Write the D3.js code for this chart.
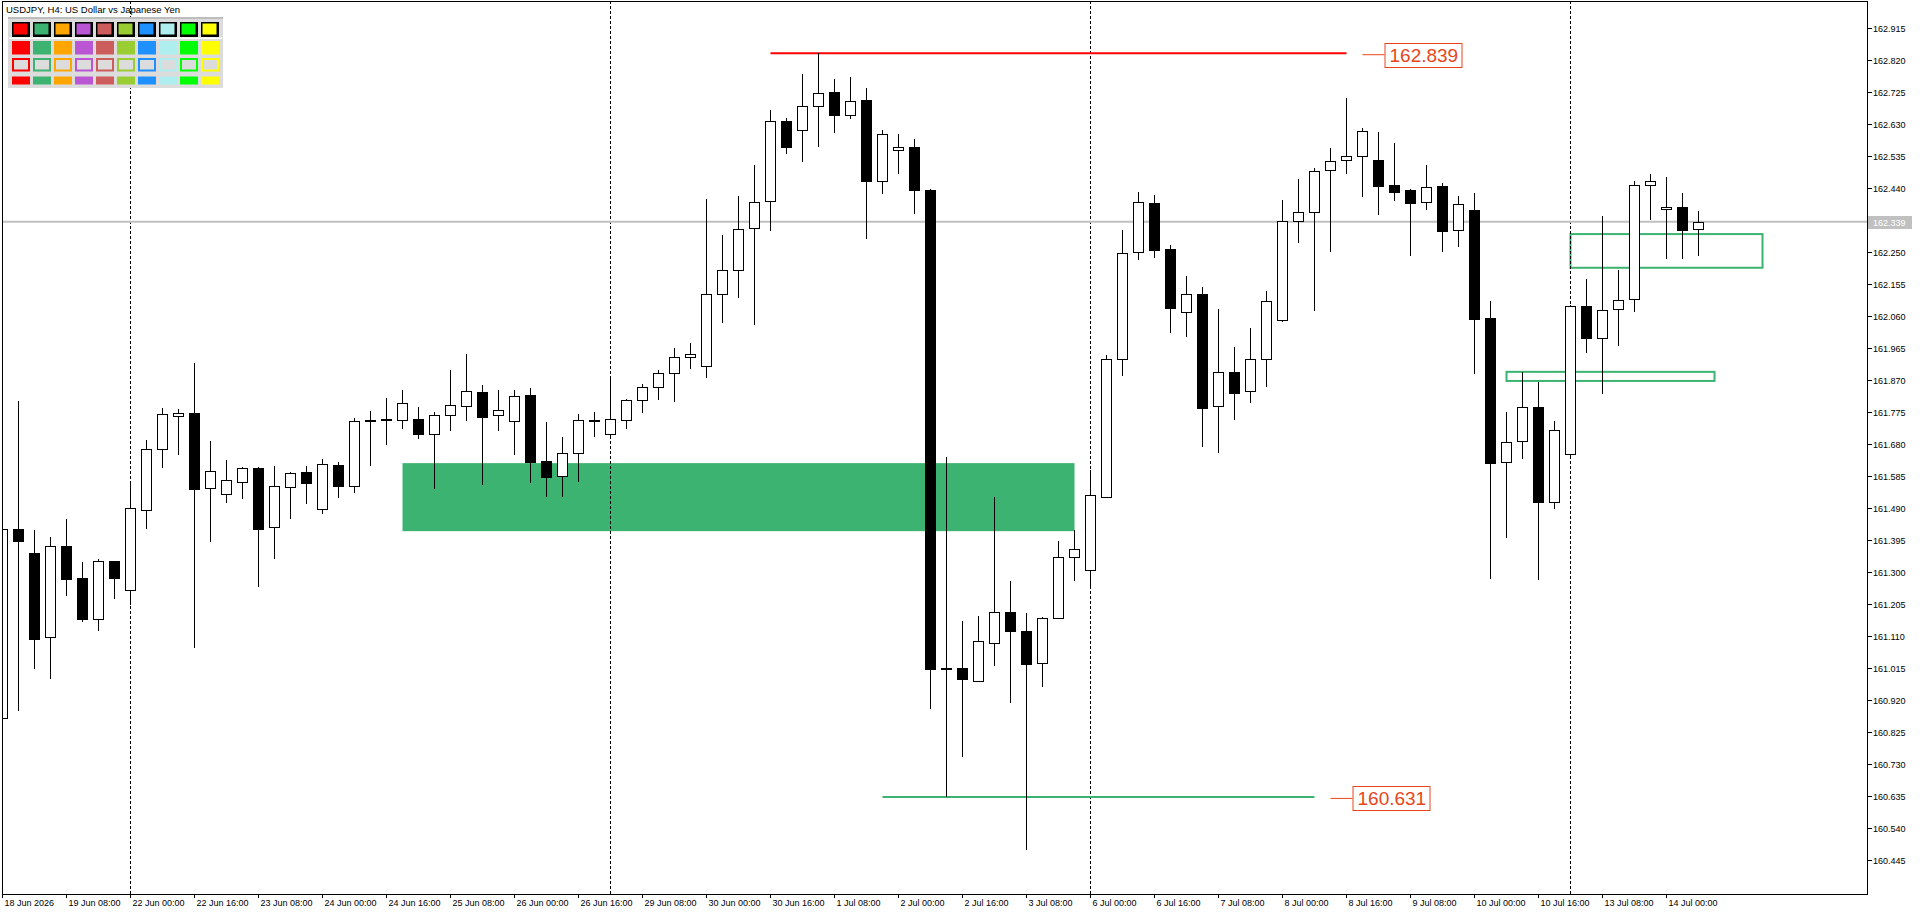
<!DOCTYPE html>
<html><head><meta charset="utf-8">
<script src="https://cdn.jsdelivr.net/npm/d3@7"></script>
<style>
html,body{margin:0;padding:0;background:#fff;overflow:hidden}
svg{display:block}
text{font-family:"Liberation Sans",Arial,sans-serif}
</style></head><body>
<svg id="chart" width="1920" height="915"></svg>
<script>
// ---------- DATA ----------
const symbolTitle = "USDJPY, H4:  US Dollar vs Japanese Yen";
const times = [
"18 Jun 16:00","18 Jun 20:00",
"19 Jun 00:00","19 Jun 04:00","19 Jun 08:00","19 Jun 12:00","19 Jun 16:00","19 Jun 20:00",
"22 Jun 00:00","22 Jun 04:00","22 Jun 08:00","22 Jun 12:00","22 Jun 16:00","22 Jun 20:00",
"23 Jun 00:00","23 Jun 04:00","23 Jun 08:00","23 Jun 12:00","23 Jun 16:00","23 Jun 20:00",
"24 Jun 00:00","24 Jun 04:00","24 Jun 08:00","24 Jun 12:00","24 Jun 16:00","24 Jun 20:00",
"25 Jun 00:00","25 Jun 04:00","25 Jun 08:00","25 Jun 12:00","25 Jun 16:00","25 Jun 20:00",
"26 Jun 00:00","26 Jun 04:00","26 Jun 08:00","26 Jun 12:00","26 Jun 16:00","26 Jun 20:00",
"29 Jun 00:00","29 Jun 04:00","29 Jun 08:00","29 Jun 12:00","29 Jun 16:00","29 Jun 20:00",
"30 Jun 00:00","30 Jun 04:00","30 Jun 08:00","30 Jun 12:00","30 Jun 16:00","30 Jun 20:00",
"1 Jul 00:00","1 Jul 04:00","1 Jul 08:00","1 Jul 12:00","1 Jul 16:00","1 Jul 20:00",
"2 Jul 00:00","2 Jul 04:00","2 Jul 08:00","2 Jul 12:00","2 Jul 16:00","2 Jul 20:00",
"3 Jul 00:00","3 Jul 04:00","3 Jul 08:00","3 Jul 12:00","3 Jul 16:00","3 Jul 20:00",
"6 Jul 00:00","6 Jul 04:00","6 Jul 08:00","6 Jul 12:00","6 Jul 16:00","6 Jul 20:00",
"7 Jul 00:00","7 Jul 04:00","7 Jul 08:00","7 Jul 12:00","7 Jul 16:00","7 Jul 20:00",
"8 Jul 00:00","8 Jul 04:00","8 Jul 08:00","8 Jul 12:00","8 Jul 16:00","8 Jul 20:00",
"9 Jul 00:00","9 Jul 04:00","9 Jul 08:00","9 Jul 12:00","9 Jul 16:00","9 Jul 20:00",
"10 Jul 00:00","10 Jul 04:00","10 Jul 08:00","10 Jul 12:00","10 Jul 16:00","10 Jul 20:00",
"13 Jul 00:00","13 Jul 04:00","13 Jul 08:00","13 Jul 12:00","13 Jul 16:00","13 Jul 20:00",
"14 Jul 00:00","14 Jul 04:00","14 Jul 08:00"
];
const opens = [
160.866,161.425,161.355,161.105,161.375,161.280,161.158,161.330,161.244,161.482,
161.663,161.763,161.771,161.547,161.531,161.567,161.607,161.431,161.550,161.595,
161.485,161.615,161.555,161.747,161.750,161.749,161.752,161.709,161.764,161.793,
161.832,161.764,161.746,161.824,161.627,161.583,161.651,161.747,161.707,161.749,
161.808,161.847,161.889,161.936,161.909,162.125,162.196,162.320,162.399,162.639,
162.612,162.683,162.724,162.657,162.701,162.459,162.553,162.562,162.433,161.013,
161.014,160.976,161.088,161.179,161.124,161.030,161.163,161.343,161.305,161.522,
161.930,162.248,162.393,162.257,162.070,162.123,161.791,161.892,161.835,161.930,
162.047,162.340,162.367,162.491,162.521,162.533,162.521,162.447,162.432,162.396,
162.444,162.313,162.373,162.052,161.624,161.687,161.788,161.506,161.648,162.088,
161.993,162.079,162.108,162.447,162.376,162.382,162.316
];
const highs = [
161.430,161.806,161.423,161.403,161.456,161.328,161.336,161.332,161.565,161.691,
161.785,161.782,161.918,161.688,161.631,161.610,161.610,161.613,161.596,161.613,
161.634,161.624,161.755,161.777,161.814,161.839,161.788,161.773,161.898,161.946,
161.853,161.839,161.838,161.845,161.743,161.699,161.768,161.774,161.874,161.811,
161.857,161.899,161.963,161.978,162.407,162.300,162.414,162.506,162.669,162.646,
162.776,162.839,162.762,162.768,162.735,162.611,162.598,162.584,162.436,161.640,
161.154,161.167,161.522,161.272,161.176,161.166,161.391,161.423,161.602,161.942,
162.314,162.427,162.418,162.270,162.178,162.144,162.080,161.967,162.023,162.133,
162.403,162.466,162.497,162.557,162.706,162.616,162.604,162.572,162.435,162.507,
162.453,162.415,162.424,162.103,161.773,161.892,161.864,161.747,162.090,162.169,
162.356,162.195,162.459,162.480,162.471,162.423,162.370
];
const lows = [
160.860,160.886,161.011,160.981,161.228,161.151,161.124,161.219,161.201,161.426,
161.608,161.647,161.074,161.388,161.504,161.516,161.255,161.338,161.457,161.501,
161.472,161.519,161.534,161.614,161.677,161.724,161.694,161.546,161.718,161.748,
161.558,161.718,161.647,161.564,161.522,161.522,161.566,161.700,161.700,161.722,
161.770,161.808,161.804,161.900,161.876,162.037,162.111,162.031,162.312,162.539,
162.515,162.562,162.601,162.644,162.286,162.422,162.479,162.363,160.893,160.631,
160.749,160.974,161.021,160.910,160.473,160.958,161.160,161.273,161.258,161.519,
161.882,162.226,162.232,162.009,161.997,161.671,161.651,161.749,161.801,161.849,
162.040,162.276,162.075,162.249,162.481,162.413,162.360,162.401,162.238,162.374,
162.250,162.264,161.887,161.279,161.400,161.633,161.276,161.485,161.640,161.948,
161.828,161.971,162.072,162.344,162.227,162.227,162.238
];
const closes = [
161.425,161.391,161.101,161.375,161.279,161.160,161.330,161.282,161.488,161.663,
161.767,161.770,161.546,161.598,161.571,161.607,161.427,161.553,161.592,161.564,
161.618,161.555,161.746,161.749,161.752,161.800,161.709,161.764,161.794,161.835,
161.760,161.779,161.820,161.626,161.582,161.651,161.749,161.749,161.752,161.808,
161.847,161.889,161.936,161.945,162.125,162.196,162.316,162.396,162.639,162.562,
162.683,162.721,162.657,162.696,162.459,162.600,162.562,162.432,161.012,161.015,
160.980,161.093,161.179,161.123,161.027,161.163,161.344,161.368,161.526,161.930,
162.245,162.396,162.256,162.083,162.123,161.787,161.892,161.831,161.930,162.102,
162.340,162.367,162.488,162.519,162.533,162.607,162.446,162.428,162.395,162.443,
162.312,162.390,162.051,161.623,161.684,161.788,161.506,161.719,162.088,161.993,
162.076,162.105,162.448,162.459,162.382,162.315,162.339
];
const tickTimes = ["18 Jun 16:00","19 Jun 08:00","22 Jun 00:00","22 Jun 16:00","23 Jun 08:00","24 Jun 00:00",
"24 Jun 16:00","25 Jun 08:00","26 Jun 00:00","26 Jun 16:00","29 Jun 08:00","30 Jun 00:00","30 Jun 16:00",
"1 Jul 08:00","2 Jul 00:00","2 Jul 16:00","3 Jul 08:00","6 Jul 00:00","6 Jul 16:00","7 Jul 08:00",
"8 Jul 00:00","8 Jul 16:00","9 Jul 08:00","10 Jul 00:00","10 Jul 16:00","13 Jul 08:00","14 Jul 00:00"];
const firstTickLabel = "18 Jun 2026";
const priceTicks = [160.445,160.540,160.635,160.730,160.825,160.920,161.015,161.110,161.205,161.300,
161.395,161.490,161.585,161.680,161.775,161.870,161.965,162.060,162.155,162.250,
162.440,162.535,162.630,162.725,162.820,162.915];
const separatorTimes = ["22 Jun 00:00","29 Jun 00:00","6 Jul 00:00","13 Jul 00:00"];
const currentPrice = 162.339;
// horizontal levels
const levelPrices = [162.839, 160.631];
const levelFrom   = ["30 Jun 16:00", "1 Jul 20:00"];
const levelTo     = ["8 Jul 16:00", "8 Jul 08:00"];
const levelLabelAt= ["8 Jul 20:00", "8 Jul 12:00"];
// zones: bar index from / to (may extend into future), price top / bottom
const zoneFrom   = [25, 98, 94];
const zoneTo     = [67, 110, 107];
const zoneTop    = [161.622, 162.302, 161.893];
const zoneBottom = [161.420, 162.202, 161.866];
const zoneFilled = [true, false, false];
const paletteColors = ["#ff0000","#3cb371","#ffa500","#ba55d3","#cd5c5c","#9acd32","#1e90ff","#afeeee","#00ff00","#ffff00"];

// ---------- CHART ----------
const svg = d3.select("#chart");
const W = 1920, H = 915;
const plotL = 2, plotR = 1867, plotT = 1, plotB = 894;
const x = d3.scaleLinear().domain([0, 100]).range([2.5, 1602.5]);
const y = d3.scaleLinear().domain([160.346, 162.997]).range([892.9, 0]);
const idx = t => times.indexOf(t);
const py = v => Math.round(y(v));
const fmt = d3.format(".3f");
const green = "#3cb371", lblColor = "#e8461a";

svg.append("rect").attr("width", W).attr("height", H).attr("fill", "#fff");

svg.append("defs").append("clipPath").attr("id", "clip")
  .append("rect").attr("x", plotL + 1).attr("y", plotT + 1)
  .attr("width", plotR - plotL - 1).attr("height", plotB - plotT - 1);

const plot = svg.append("g").attr("clip-path", "url(#clip)");

// zones
zoneFrom.forEach((f, k) => {
  const x0 = x(f), x1 = x(zoneTo[k]);
  const y0 = y(zoneTop[k]), y1 = y(zoneBottom[k]);
  if (zoneFilled[k]) {
    plot.append("rect").attr("x", x0).attr("y", y0).attr("width", x1 - x0).attr("height", y1 - y0)
      .attr("fill", green);
  } else {
    plot.append("rect").attr("x", x0).attr("y", y0).attr("width", x1 - x0).attr("height", y1 - y0)
      .attr("fill", "none").attr("stroke", green).attr("stroke-width", 2);
  }
});

// separators
separatorTimes.forEach(t => {
  plot.append("line").attr("x1", x(idx(t))).attr("x2", x(idx(t)))
    .attr("y1", plotT).attr("y2", plotB)
    .attr("stroke", "#000").attr("stroke-width", 1).attr("stroke-dasharray", "3,2");
});

// current price line
plot.append("line").attr("x1", plotL).attr("x2", plotR)
  .attr("y1", y(currentPrice)).attr("y2", y(currentPrice))
  .attr("stroke", "#c0c0c0").attr("stroke-width", 2);

// levels
levelPrices.forEach((p, k) => {
  const col = k === 0 ? "#ff0000" : green;
  plot.append("line").attr("x1", x(idx(levelFrom[k]))).attr("x2", x(idx(levelTo[k])))
    .attr("y1", y(p)).attr("y2", y(p)).attr("stroke", col).attr("stroke-width", 2);
  const cx0 = x(idx(levelLabelAt[k]));
  const cy = y(p) + 1.5;
  const bx = cx0 + 22;
  plot.append("line").attr("x1", cx0).attr("x2", bx).attr("y1", cy).attr("y2", cy)
    .attr("stroke", lblColor).attr("stroke-width", 1);
  plot.append("rect").attr("x", bx + 0.5).attr("y", Math.round(cy - 12) + 0.5)
    .attr("width", 77).attr("height", 24).attr("fill", "#fff").attr("stroke", lblColor);
  plot.append("text").attr("x", bx + 5).attr("y", cy + 7)
    .attr("font-size", 19).attr("fill", lblColor).text(fmt(p));
});

// candles
const bars = times.map((t, i) => ({ i, o: opens[i], h: highs[i], l: lows[i], c: closes[i] }));
plot.append("g").selectAll("line").data(bars).join("line")
  .attr("x1", d => x(d.i)).attr("x2", d => x(d.i))
  .attr("y1", d => py(d.h)).attr("y2", d => py(d.l))
  .attr("stroke", "#000").attr("stroke-width", 1).attr("shape-rendering", "crispEdges");
plot.append("g").selectAll("rect").data(bars).join("rect")
  .attr("x", d => x(d.i) - 5)
  .attr("y", d => py(Math.max(d.o, d.c)) + 0.5)
  .attr("width", 10)
  .attr("height", d => Math.max(1, py(Math.min(d.o, d.c)) - py(Math.max(d.o, d.c))))
  .attr("fill", d => d.c >= d.o ? "#fff" : "#000")
  .attr("stroke", "#000").attr("stroke-width", 1).attr("shape-rendering", "crispEdges");

// frame
svg.append("rect").attr("x", plotL + 0.5).attr("y", plotT + 0.5)
  .attr("width", plotR - plotL).attr("height", plotB - plotT)
  .attr("fill", "none").attr("stroke", "#000").attr("stroke-width", 1).attr("shape-rendering", "crispEdges");

// price axis
const pa = svg.append("g");
priceTicks.forEach(p => {
  const yy = py(p) + 0.5;
  pa.append("line").attr("x1", plotR + 0.5).attr("x2", plotR + 4.5).attr("y1", yy).attr("y2", yy)
    .attr("stroke", "#000").attr("shape-rendering", "crispEdges");
  pa.append("text").attr("x", plotR + 6).attr("y", yy + 3.3).attr("font-size", 9).attr("fill", "#000").text(fmt(p));
});
const cyp = py(currentPrice);
pa.append("rect").attr("x", plotR + 1).attr("y", cyp - 6).attr("width", 44).attr("height", 13).attr("fill", "#c0c0c0");
pa.append("text").attr("x", plotR + 6).attr("y", cyp + 3.8).attr("font-size", 9).attr("fill", "#fff").text(fmt(currentPrice));

// time axis
const ta = svg.append("g");
tickTimes.forEach((t, k) => {
  const xx = x(idx(t));
  ta.append("line").attr("x1", xx).attr("x2", xx).attr("y1", plotB).attr("y2", plotB + 4)
    .attr("stroke", "#000").attr("shape-rendering", "crispEdges");
  ta.append("text").attr("x", xx + 2).attr("y", plotB + 12).attr("font-size", 9).attr("fill", "#000")
    .text(k === 0 ? firstTickLabel : t);
});

// title
svg.append("text").attr("x", 6).attr("y", 13).attr("font-size", 9.5).attr("fill", "#000").text(symbolTitle);

// palette panel
const pg = svg.append("g");
pg.append("rect").attr("x", 8).attr("y", 17).attr("width", 215).attr("height", 71).attr("fill", "#dcdcdc");
pg.append("rect").attr("x", 8).attr("y", 17).attr("width", 215).attr("height", 2).attr("fill", "#bdbdbd");
pg.append("rect").attr("x", 9).attr("y", 37.5).attr("width", 213).attr("height", 1.5).attr("fill", "#fff");
paletteColors.forEach((c, i) => {
  const x0 = 12 + 21 * i;
  pg.append("rect").attr("x", x0).attr("y", 22).attr("width", 18).attr("height", 15).attr("fill", "#000");
  pg.append("rect").attr("x", x0 + 1.5).attr("y", 23.5).attr("width", 14).attr("height", 11).attr("fill", c);
  pg.append("rect").attr("x", x0).attr("y", 41).attr("width", 18).attr("height", 13.5).attr("fill", c);
  pg.append("rect").attr("x", x0 + 1).attr("y", 59).attr("width", 16).attr("height", 11.5)
    .attr("fill", "#dcdcdc").attr("stroke", c).attr("stroke-width", 2);
  pg.append("rect").attr("x", x0).attr("y", 76.5).attr("width", 18).attr("height", 8).attr("fill", c);
});
</script>
</body></html>
